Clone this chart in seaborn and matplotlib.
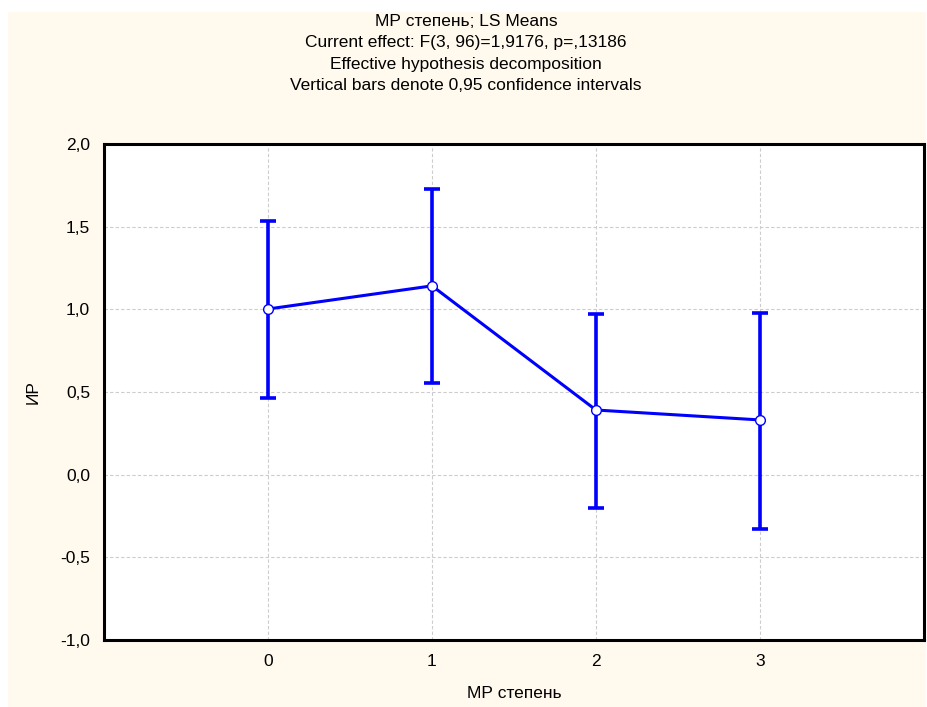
import matplotlib
matplotlib.use("Agg")
import matplotlib.pyplot as plt
import seaborn as sns
import pandas as pd
from matplotlib.patches import Rectangle

categories = [0, 1, 2, 3]
means = [1.002, 1.142, 0.391, 0.331]
ci_low = [0.464, 0.555, -0.201, -0.328]
ci_high = [1.535, 1.728, 0.972, 0.978]
y_ticks = [-1.0, -0.5, 0.0, 0.5, 1.0, 1.5, 2.0]
y_tick_labels = ["-1,0", "-0,5", "0,0", "0,5", "1,0", "1,5", "2,0"]
title_lines = ["МР степень; LS Means",
               "Current effect: F(3, 96)=1,9176, p=,13186",
               "Effective hypothesis decomposition",
               "Vertical bars denote 0,95 confidence intervals"]

sns.set_style("white")
plt.rcParams['font.family'] = ['Liberation Sans', 'DejaVu Sans']
plt.rcParams['text.color'] = 'black'
plt.rcParams['axes.labelcolor'] = 'black'
plt.rcParams['xtick.color'] = 'black'
plt.rcParams['ytick.color'] = 'black'

FS = 12.5
W, H = 928, 707
fig = plt.figure(figsize=(W / 100, H / 100), dpi=100, facecolor="white")
fig.patches.append(Rectangle((8 / W, 0), (926 - 8) / W, (H - 12) / H,
                             transform=fig.transFigure, facecolor="#FFF9EE",
                             edgecolor="none", zorder=-10))
ax = fig.add_axes([104 / W, (H - 640) / H, (924 - 104) / W, (640 - 144) / H])
ax.set_facecolor("white")

df = pd.DataFrame({"x": categories, "y": means})
blue = "#0000FF"
yerr = [[m - lo for m, lo in zip(means, ci_low)], [hi - m for m, hi in zip(means, ci_high)]]
ax.errorbar(categories, means, yerr=yerr, fmt="none", ecolor=blue, elinewidth=2.6,
            capsize=6, capthick=2.6, zorder=3)
sns.lineplot(data=df, x="x", y="y", ax=ax, color=blue, linewidth=2.2, marker="o",
             markersize=7, markerfacecolor="white", markeredgecolor=blue,
             markeredgewidth=1.0, zorder=4)

ax.set_xlim(-1, 4)
ax.set_ylim(-1, 2)
ax.set_xticks(categories)
ax.set_xticklabels([str(c) for c in categories], fontsize=FS)
ax.set_yticks(y_ticks)
ax.set_yticklabels(y_tick_labels, fontsize=FS)
ax.tick_params(axis="both", length=0, pad=10)
ax.grid(True, color="#CCCCCC", linestyle=(0, (3, 2)), linewidth=0.8)
ax.set_axisbelow(True)
for s in ax.spines.values():
    s.set_color("black")
    s.set_linewidth(2.2)
ax.set_xlabel("МР степень", fontsize=FS, labelpad=12)
ax.set_ylabel("ИР", fontsize=FS, labelpad=14)

for i, line in enumerate(title_lines):
    fig.text(466 / W, 1 - (22 + i * 21) / H, line, ha="center", va="center", fontsize=FS)

fig.savefig("out.png", dpi=100, facecolor=fig.get_facecolor())
